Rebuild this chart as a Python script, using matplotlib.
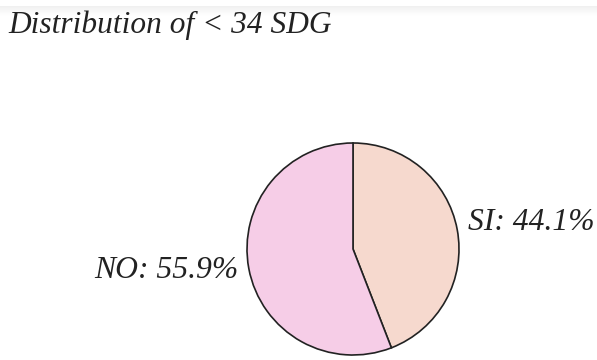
import numpy as np
import matplotlib.pyplot as plt

labels = ["SI", "NO"]
shares = [44.1, 55.9]
colors = ["#F6D9CE", "#F6CDE7"]
title = "Distribution of < 34 SDG"

serif = ["Liberation Serif", "DejaVu Serif"]

fig = plt.figure(figsize=(5.97, 3.6), dpi=100)

# faint shadow band along the top edge
band = fig.add_axes([0, 1 - 16 / 360, 1, 10 / 360])
band.imshow(np.linspace(0.94, 1.0, 32).reshape(-1, 1), cmap="gray", vmin=0, vmax=1,
            aspect="auto", extent=[0, 1, 0, 1])
band.axis("off")

fig.text(8 / 597, 1 - 25 / 360, title, fontsize=22.6, style="italic",
         family=serif, ha="left", va="center", color="#222222")

# pie centred at (353, 249) px with radius ~106 px
r = 106
ax = fig.add_axes([(353 - r) / 597, (360 - 249 - r) / 360, 2 * r / 597, 2 * r / 360])
wedges, texts = ax.pie(
    shares,
    labels=[f"{l}: {v}%" for l, v in zip(labels, shares)],
    colors=colors,
    startangle=90,
    counterclock=False,
    wedgeprops=dict(edgecolor="#222222", linewidth=1.2),
    textprops=dict(fontsize=22.8, style="italic", family=serif, color="#222222"),
)
# nudge the right-hand label up a little
x, y = texts[0].get_position()
texts[0].set_position((x, y + 0.05))
ax.set_xlim(-1, 1)
ax.set_ylim(-1, 1)
ax.set_aspect("equal")

fig.savefig("out.png", dpi=100)
